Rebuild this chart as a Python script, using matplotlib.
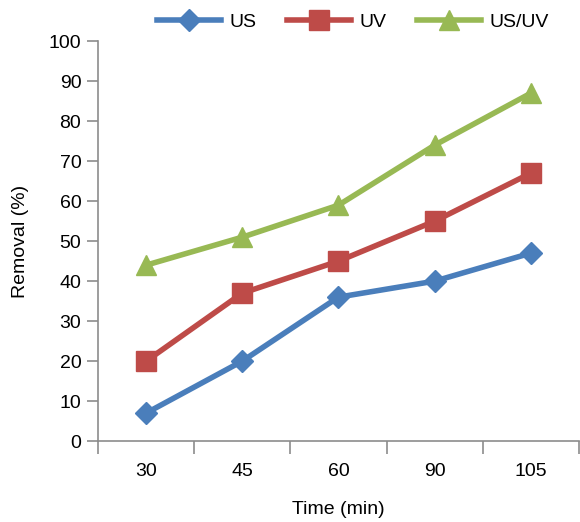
import matplotlib
matplotlib.use("Agg")
import matplotlib.pyplot as plt
import numpy as np

plt.rcParams['font.family'] = ['Liberation Sans', 'DejaVu Sans']

times = ["30", "45", "60", "90", "105"]
us = [7, 20, 36, 40, 47]
uv = [20, 37, 45, 55, 67]
us_uv = [44, 51, 59, 74, 87]

fig = plt.figure(figsize=(5.8, 5.22), dpi=100)
ax = fig.add_axes([0.169, 0.155, 0.829, 0.766])

x = np.arange(len(times))
ax.plot(x, us, color="#4A7EBB", lw=4, marker="D", ms=11, label="US", zorder=3)
ax.plot(x, uv, color="#BE4B48", lw=4, marker="s", ms=14, label="UV", zorder=3)
ax.plot(x, us_uv, color="#98B954", lw=4, marker="^", ms=15, label="US/UV", zorder=3)

ax.set_xlim(-0.5, len(times) - 0.5)
ax.set_ylim(0, 100)
ax.set_yticks(range(0, 101, 10))
ax.set_xticks(x)
ax.set_xticklabels(times)
ax.set_xticks(np.arange(-0.5, len(times), 1.0), minor=True)

axis_gray = "#8C8C8C"
for side in ["top", "right"]:
    ax.spines[side].set_visible(False)
for side in ["left", "bottom"]:
    ax.spines[side].set_color(axis_gray)
    ax.spines[side].set_linewidth(1.2)

ax.tick_params(axis="y", direction="out", length=8, width=1.2, color=axis_gray,
               labelsize=14, pad=4)
ax.tick_params(axis="x", which="major", length=0, labelsize=14, pad=16)
ax.tick_params(axis="x", which="minor", direction="out", length=9, width=1.2,
               color=axis_gray)

ax.set_xlabel("Time (min)", fontsize=14, labelpad=15)
ax.set_ylabel("Removal (%)", fontsize=14, labelpad=14)

leg = ax.legend(loc="lower center", bbox_to_anchor=(0.53, 1.0), ncol=3,
                frameon=False, fontsize=14, handlelength=3.3, columnspacing=1.6,
                handletextpad=0.4, borderaxespad=0.15)

fig.savefig("out.png", dpi=100)
